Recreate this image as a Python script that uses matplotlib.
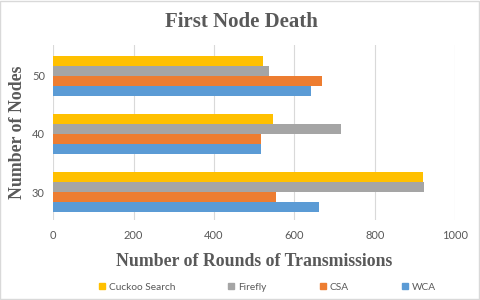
import matplotlib
matplotlib.use("Agg")
import matplotlib.pyplot as plt
from matplotlib.lines import Line2D
from matplotlib.patches import Rectangle
import numpy as np

categories = ["30", "40", "50"]
series_names = ["WCA", "CSA", "Firefly", "Cuckoo Search"]
wca = [662, 518, 641]
csa = [555, 516, 669]
firefly = [922, 717, 536]
cuckoo = [920, 546, 522]
colors = ["#5B9BD5", "#ED7D31", "#A5A5A5", "#FFC000"]
x_ticks = [0, 200, 400, 600, 800, 1000]

values = [wca, csa, firefly, cuckoo]

fig = plt.figure(figsize=(4.8, 3.0), dpi=100)
ax = fig.add_axes([0.111, 0.267, 0.837, 0.583])

y = np.arange(len(categories))
h = 0.1715
for i, (vals, col) in enumerate(zip(values, colors)):
    ax.barh(y + (i - 1.5) * h, vals, height=h, color=col, zorder=3)

ax.set_xlim(0, 1000)
ax.set_ylim(-0.475, 2.527)
ax.set_xticks(x_ticks)
ax.set_xticklabels([str(t) for t in x_ticks])
ax.set_yticks(y)
ax.set_yticklabels(categories)
ax.grid(axis="x", color="#D9D9D9", linewidth=0.8, zorder=0)
for s in ax.spines.values():
    s.set_visible(False)
ax.tick_params(axis="both", length=0, labelsize=8, labelcolor="#595959")
for lab in ax.get_xticklabels() + ax.get_yticklabels():
    lab.set_family("Lato")
ax.tick_params(axis="x", pad=7)
ax.tick_params(axis="y", pad=6)

fig.text(0.503, 0.927, "First Node Death", ha="center", va="center",
         fontsize=15, fontweight="bold", family="Liberation Serif", color="#595959")
ax.set_xlabel("Number of Rounds of Transmissions", fontsize=12.8, fontweight="bold",
              family="Liberation Serif", color="#595959", labelpad=9)
ax.set_ylabel("Number of Nodes", fontsize=12.8, fontweight="bold",
              family="Liberation Serif", color="#595959", labelpad=4)

handles = [Line2D([], [], marker="s", linestyle="none", markersize=5,
                  markerfacecolor=colors[i], markeredgecolor=colors[i])
           for i in [3, 2, 1, 0]]
labels = [series_names[i] for i in [3, 2, 1, 0]]
leg = fig.legend(handles, labels, loc="center", bbox_to_anchor=(0.556, 0.043), ncol=4,
                 frameon=False, handlelength=0.8, handletextpad=0.3,
                 columnspacing=5.1, prop={"family": "Lato", "size": 7.3})
for t in leg.get_texts():
    t.set_color("#595959")

fig.patches.append(Rectangle((0.001, 0.002), 0.997, 0.995, transform=fig.transFigure,
                             fill=False, edgecolor="#D9D9D9", linewidth=1))

fig.savefig("out.png", dpi=100)
